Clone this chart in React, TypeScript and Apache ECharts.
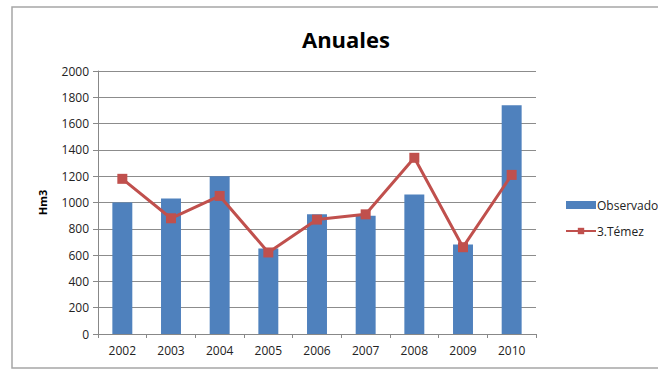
import React, { useEffect, useRef } from "react";
import * as echarts from "echarts";

const categories = ["2002", "2003", "2004", "2005", "2006", "2007", "2008", "2009", "2010"];
const observado = [1000, 1030, 1200, 650, 910, 900, 1060, 680, 1740];
const temez = [1180, 880, 1050, 620, 870, 910, 1340, 660, 1210];

export default function App() {
  const ref = useRef<HTMLDivElement>(null);
  useEffect(() => {
    const chart = echarts.init(ref.current!, undefined, { renderer: "svg" });
    const font = "'Open Sans', 'Liberation Sans', sans-serif";
    chart.setOption({
      animation: false,
      backgroundColor: "#ffffff",
      textStyle: { fontFamily: font },
      title: {
        text: "Anuales",
        left: 341,
        top: 23,
        textAlign: "center",
        textStyle: { fontFamily: font, fontSize: 22, fontWeight: "bold", color: "#000" },
      },
      graphic: [
        {
          type: "rect",
          shape: { x: 12, y: 7, width: 660, height: 361 },
          style: { fill: "none", stroke: "#a6a6a6", lineWidth: 1.5 },
          silent: true,
        },
      ],
      grid: { left: 98, right: 122, top: 71, bottom: 35 },
      legend: {
        orient: "vertical",
        left: 560,
        top: 194,
        itemGap: 14,
        itemWidth: 30,
        itemHeight: 8,
        textStyle: { fontFamily: font, fontSize: 12, color: "#222", padding: [0, 0, 0, -4] },
        data: [
          { name: "Observado", icon: "rect" },
          { name: "3.Témez" },
        ],
      },
      xAxis: {
        type: "category",
        data: categories,
        axisLine: { lineStyle: { color: "#888", width: 1 } },
        axisTick: { show: true, alignWithLabel: false, length: 4, lineStyle: { color: "#888" } },
        axisLabel: { color: "#222", fontSize: 12, fontFamily: font, margin: 10 },
      },
      yAxis: {
        type: "value",
        min: 0,
        max: 2000,
        interval: 200,
        name: "Hm3",
        nameLocation: "middle",
        nameGap: 50,
        nameRotate: 90,
        nameTextStyle: { fontFamily: font, fontSize: 11, fontWeight: "bold", color: "#000" },
        axisLine: { show: true, lineStyle: { color: "#888", width: 1 } },
        axisTick: { show: true, length: 5, lineStyle: { color: "#888" } },
        axisLabel: { color: "#222", fontSize: 12, fontFamily: font, margin: 9, formatter: (v: number) => String(v) },
        splitLine: { lineStyle: { color: "#8c8c8c", width: 1 } },
      },
      series: [
        {
          name: "Observado",
          type: "bar",
          data: observado,
          barWidth: "41%",
          itemStyle: { color: "#4F81BD" },
        },
        {
          name: "3.Témez",
          type: "line",
          data: temez,
          symbol: "rect",
          symbolSize: 10,
          lineStyle: { color: "#C0504D", width: 3 },
          itemStyle: { color: "#C0504D" },
        },
      ],
    });
    return () => chart.dispose();
  }, []);
  return <div ref={ref} style={{ width: 658, height: 369, position: "absolute", left: 0, top: 0 }} />;
}
